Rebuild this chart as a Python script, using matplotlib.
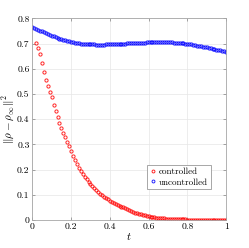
import numpy as np
import matplotlib
matplotlib.use("Agg")
import matplotlib.pyplot as plt

plt.rcParams['font.family'] = 'serif'
plt.rcParams['font.serif'] = ['cmr10', 'DejaVu Serif']
plt.rcParams['mathtext.fontset'] = 'cm'
plt.rcParams['axes.unicode_minus'] = False
plt.rcParams['axes.formatter.use_mathtext'] = True

# controlled run, t = 0.02 ... 1.00
t_ctrl = np.round(np.arange(2, 101) / 100, 2)
controlled = [
    0.703, 0.684, 0.657, 0.621, 0.587, 0.555, 0.530, 0.509, 0.487,
    0.458, 0.432, 0.408, 0.386, 0.365, 0.347, 0.329, 0.311, 0.294,
    0.274, 0.255, 0.238, 0.222, 0.207,
    0.195, 0.183, 0.172, 0.162, 0.152, 0.143, 0.135, 0.127, 0.119, 0.112, 0.105, 0.099,
    0.093, 0.0874, 0.0822, 0.0772, 0.0726, 0.0682, 0.0641, 0.0602, 0.0566, 0.0532, 0.050,
    0.0456, 0.0416, 0.0380, 0.0347, 0.0316, 0.0289, 0.0263, 0.0240, 0.0219, 0.0200,
    0.0178, 0.0159, 0.0141, 0.0126, 0.0112, 0.0100,
    0.0091, 0.0082, 0.0074, 0.0067, 0.0061, 0.0055, 0.0050,
    0.0045, 0.0041, 0.0037, 0.0033, 0.0030, 0.0027, 0.0024, 0.0022, 0.0020, 0.0018,
    0.0016, 0.0014, 0.0013, 0.0012, 0.0011, 0.0010, 0.0009, 0.0008, 0.0007, 0.0006,
    0.0005, 0.0005, 0.0004, 0.0004, 0.0003, 0.0003, 0.0003, 0.0002, 0.0002, 0.0002,
]

# uncontrolled run, t = 0.00 ... 1.00
t_unc = np.round(np.arange(0, 101) / 100, 2)
uncontrolled = [
    0.765, 0.761, 0.758, 0.755, 0.751, 0.748, 0.745, 0.741, 0.738, 0.734,
    0.731, 0.728, 0.725, 0.722, 0.720, 0.717, 0.715, 0.713, 0.711, 0.709,
    0.707, 0.706, 0.704, 0.703, 0.701, 0.700, 0.699, 0.699, 0.698, 0.698,
    0.697, 0.697, 0.697, 0.696, 0.696, 0.696, 0.696, 0.696, 0.697, 0.697,
    0.697, 0.697, 0.698, 0.698, 0.699, 0.699, 0.699, 0.700, 0.700, 0.701,
    0.701, 0.701, 0.702, 0.702, 0.703, 0.703, 0.703, 0.704, 0.704, 0.705,
    0.705, 0.705, 0.705, 0.706, 0.706, 0.706, 0.706, 0.706, 0.706, 0.706,
    0.706, 0.705, 0.705, 0.704, 0.704, 0.703, 0.702, 0.702, 0.701, 0.700,
    0.699, 0.698, 0.697, 0.695, 0.694, 0.692, 0.691, 0.689, 0.688, 0.686,
    0.685, 0.683, 0.681, 0.680, 0.678, 0.676, 0.675, 0.673, 0.671, 0.669,
    0.667,
]

fig = plt.figure(figsize=(2.49, 2.48), dpi=100)
ax = fig.add_axes([0.130, 0.113, 0.778, 0.813])

ax.plot(t_ctrl, controlled, 'o', color='red', ms=2.3, mfc='none', mew=0.7,
        alpha=0.85, label='controlled')
ax.plot(t_unc, uncontrolled, 'o', color='blue', ms=2.3, mfc='none', mew=0.7,
        alpha=0.85, label='uncontrolled')

ax.set_xlim(0, 1)
ax.set_ylim(0, 0.8)
ax.set_xticks([0, 0.2, 0.4, 0.6, 0.8, 1])
ax.set_xticklabels(['0', '0.2', '0.4', '0.6', '0.8', '1'])
ax.set_yticks(np.arange(0, 0.81, 0.1))
ax.set_yticklabels(['0', '0.1', '0.2', '0.3', '0.4', '0.5', '0.6', '0.7', '0.8'])
ax.tick_params(direction='in', labelsize=7, length=2.5, width=0.5,
               color='0.5', top=True, right=True, pad=2)
ax.grid(True, color='0.9', linewidth=0.5)
for s in ax.spines.values():
    s.set_color('0.65')
    s.set_linewidth(0.6)

ax.set_xlabel('$t$', fontsize=8, labelpad=0)
ax.set_ylabel(r'$\|\rho-\rho_{\infty}\|^2$', fontsize=8, labelpad=1)

leg = ax.legend(loc='lower right', bbox_to_anchor=(0.945, 0.13), fontsize=6.5,
                handlelength=0.6, handletextpad=0.4, borderpad=0.3,
                labelspacing=0.2, fancybox=False, framealpha=1,
                edgecolor='0.6', markerscale=0.9)
leg.get_frame().set_linewidth(0.6)

fig.savefig('out.png', dpi=100)
